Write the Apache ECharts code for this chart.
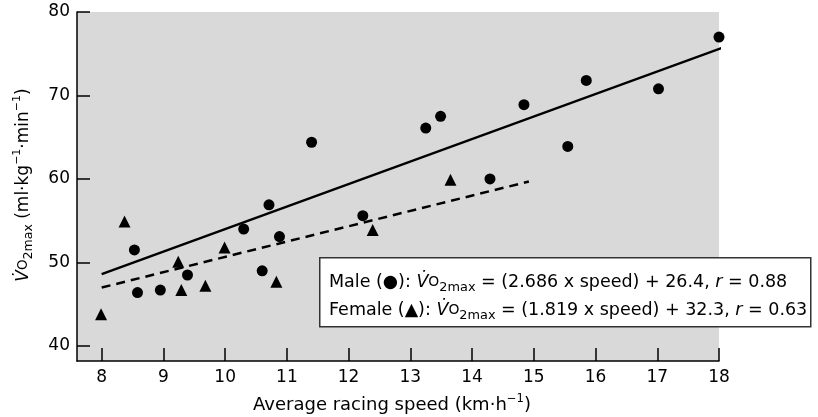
<!DOCTYPE html>
<html>
<head>
<meta charset="utf-8">
<script src="https://cdn.jsdelivr.net/npm/echarts@6/dist/echarts.min.js"></script>
<style>html,body{margin:0;padding:0;background:#fff}#c{width:818px;height:417px}</style>
</head>
<body>
<div id="c"></div>
<script>
// Male runners: [speed km/h, VO2max]
const maleData = [
  [8.53, 51.5], [8.58, 46.4], [8.95, 46.7], [9.39, 48.5], [10.30, 54.0],
  [10.60, 49.0], [10.71, 56.9], [10.88, 53.1], [11.40, 64.4], [12.23, 55.6],
  [13.25, 66.1], [13.49, 67.5], [14.29, 60.0], [14.84, 68.9], [15.55, 63.9],
  [15.85, 71.8], [17.02, 70.8], [18.00, 77.0]
];
// Female runners
const femaleData = [
  [7.99, 43.8], [8.37, 54.9], [9.24, 50.1], [9.29, 46.7], [9.68, 47.2],
  [9.99, 51.8], [10.83, 47.7], [12.39, 53.9], [13.65, 59.9]
];
// Regression lines as drawn
const maleFit = [[8, 48.6], [18.16, 76.0]];
const femaleFit = [[8, 47.0], [14.92, 59.7]];
const xRange = [7.6, 18];
const yRange = [38.2, 80];
const legendLines = [
  ['Male (●): ', '2.686', '26.4', '0.88'],
  ['Female (▲): ', '1.819', '32.3', '0.63']
];

const FONT = 'DejaVu Sans';
const chart = echarts.init(document.getElementById('c'), null, {renderer: 'canvas'});

function makeRich(fs) {
  const k = fs / 17;
  return {
    vi: {fontFamily: FONT, fontSize: fs, fontStyle: 'italic', color: '#000', lineHeight: 28},
    o: {fontFamily: FONT, fontSize: 13.5 * k, color: '#000', lineHeight: 28},
    sub: {fontFamily: FONT, fontSize: 12.5 * k, color: '#000', padding: [11, 0, 0, 0], lineHeight: 28},
    sup: {fontFamily: FONT, fontSize: 11 * k, color: '#000', padding: [0, 0, 12, 0], lineHeight: 28},
    it: {fontFamily: FONT, fontSize: fs, fontStyle: 'italic', color: '#000', lineHeight: 28},
    n: {fontFamily: FONT, fontSize: fs, color: '#000', lineHeight: 28}
  };
}
const baseRich = makeRich(17);
const legendRich = makeRich(17.5);

function legendText(l) {
  return '{n|' + l[0] + '}{vi|V\u0307}{o|O}{sub|2max}{n| = (' + l[1] + ' x speed) + ' + l[2] + ', }{it|r}{n| = ' + l[3] + '}';
}

const axisCommon = {
  axisLine: {show: true, onZero: false, lineStyle: {color: '#000', width: 1.5}},
  axisTick: {show: true, inside: true, length: 13, lineStyle: {color: '#000', width: 1.5}},
  splitLine: {show: false},
  axisLabel: {color: '#000', fontFamily: FONT, fontSize: 17, showMinLabel: false}
};

chart.setOption({
  animation: false,
  backgroundColor: '#fff',
  grid: {left: 77, right: 99, top: 12, bottom: 56, show: true, backgroundColor: '#d9d9d9', borderWidth: 0,
         containLabel: false, outerBoundsMode: 'none'},
  xAxis: Object.assign({}, axisCommon, {
    type: 'value', min: xRange[0], max: xRange[1], minInterval: 1, maxInterval: 1,
    axisLabel: Object.assign({}, axisCommon.axisLabel, {margin: 8}),
    name: '{n|Average racing speed (km·h}{sup|−1}{n|)}',
    nameLocation: 'middle', nameGap: 30,
    nameTextStyle: {fontFamily: FONT, fontSize: 18, color: '#000', padding: [0, 12, 0, 0], lineHeight: 28, rich: makeRich(18)}
  }),
  yAxis: Object.assign({}, axisCommon, {
    type: 'value', min: yRange[0], max: yRange[1], minInterval: 10, maxInterval: 10,
    axisLabel: Object.assign({}, axisCommon.axisLabel, {margin: 7}),
    name: '{vi|V\u0307}{o|O}{sub|2max}{n| (ml·kg}{sup|−1}{n|·min}{sup|−1}{n|)}',
    nameLocation: 'middle', nameRotate: 90, nameGap: 29,
    nameTextStyle: {fontFamily: FONT, fontSize: 17, color: '#000', padding: [0, 0, 0, 3], lineHeight: 28, rich: baseRich}
  }),
  series: [
    {type: 'line', data: maleFit, showSymbol: false, symbol: 'none', clip: false,
     lineStyle: {color: '#000', width: 2.5}, z: 2},
    {type: 'line', data: femaleFit, showSymbol: false, symbol: 'none', clip: false,
     lineStyle: {color: '#000', width: 2.5, type: [9, 6]}, z: 2},
    {type: 'scatter', data: maleData, symbol: 'circle', symbolSize: 11, itemStyle: {color: '#000', opacity: 1}, z: 3},
    {type: 'scatter', data: femaleData, symbol: 'triangle', symbolSize: 12, itemStyle: {color: '#000', opacity: 1}, z: 3}
  ],
  graphic: [
    {type: 'rect', left: 319, top: 257, z: 100,
     shape: {width: 491, height: 69},
     style: {fill: '#fff', stroke: '#333', lineWidth: 1.5}},
    {type: 'text', left: 329, top: 268, z: 101,
     style: {text: legendText(legendLines[0]) + '\n' + legendText(legendLines[1]),
             rich: legendRich, lineHeight: 28, font: '17.5px "DejaVu Sans"', fill: '#000'}}
  ]
});
</script>
</body>
</html>
